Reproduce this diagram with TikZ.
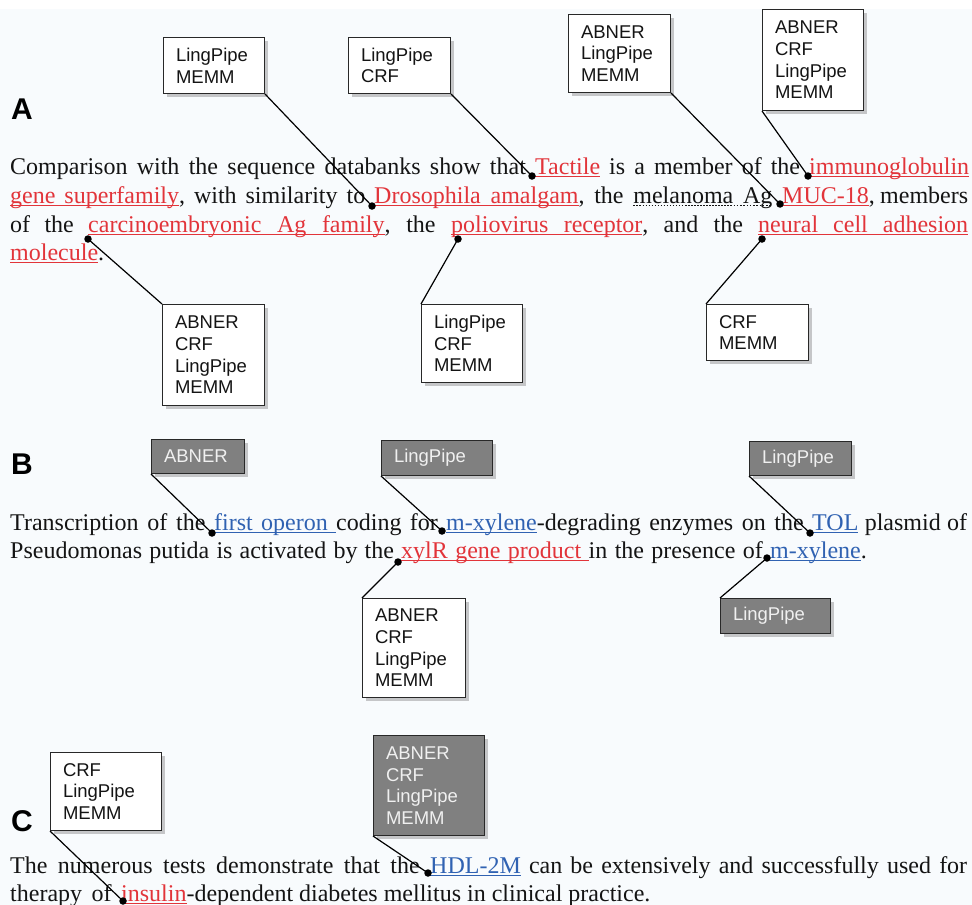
\documentclass[tikz,border=0pt]{standalone}
\usepackage{fontspec}
\setmainfont{Liberation Serif}
\newfontfamily\sansf{Liberation Sans}
\usetikzlibrary{shadows}
\definecolor{bg}{RGB}{248,251,253}
\definecolor{hlred}{RGB}{226,52,58}
\definecolor{hlblue}{RGB}{48,98,178}
\definecolor{gbox}{RGB}{128,128,128}
\definecolor{gtext}{RGB}{240,240,240}
\definecolor{bord}{RGB}{40,40,40}
\definecolor{ink}{RGB}{20,20,20}
% underline helpers
\newcommand\ulw[1]{\setbox0\hbox{#1}\rlap{\vrule width\wd0 height -2pt depth 3.3pt}\box0}
\newcommand\uls{\leaders\hrule height -2pt depth 3.3pt\hskip\fontdimen2\font plus\fontdimen3\font minus\fontdimen4\font\relax}
\newcommand\dashpiece{\hbox to 3pt{\vrule width 1.6pt height -2pt depth 3pt\hss}}
\newcommand\dul[1]{\setbox0\hbox{#1}\rlap{\hbox to\wd0{\xleaders\dashpiece\hfil}}\box0}
\newcommand\dus{\xleaders\dashpiece\hskip\fontdimen2\font plus\fontdimen3\font minus\fontdimen4\font\relax}
\newcommand\bodyfnt{\fontsize{24}{28}\selectfont\frenchspacing}
\newcommand\boxfnt{\sansf\fontsize{18.5}{21.7}\selectfont}
\newcommand\lblfnt{\sansf\bfseries\fontsize{30}{32}\selectfont}
\begin{document}
\begin{tikzpicture}[x=1pt,y=-1pt,
  seg/.style={anchor=base west,inner sep=0pt,font=\bodyfnt,text=ink},
  lbl/.style={anchor=base west,inner sep=0pt,font=\lblfnt,text=black},
  dot/.style={circle,fill=black,inner sep=0pt,minimum size=7.5pt},
  conn/.style={draw=black,line width=1.2pt},
  wbox/.style={draw=bord,line width=1pt,fill=white,anchor=north west,
    inner xsep=12.5pt,inner ysep=0pt,align=left,font=\boxfnt,text=ink,
    drop shadow={shadow xshift=3pt,shadow yshift=-3pt,opacity=0.35,fill=black!60}},
  gbx/.style={wbox,fill=gbox,text=gtext}]
\useasboundingbox (0,0) rectangle (972,905);
\fill[white] (0,0) rectangle (972,905);
\fill[bg] (0,9) rectangle (972,905);

% panel labels
\node[lbl] (lA) at (11,119) {A};
\node[lbl] (lB) at (11,474) {B};
\node[lbl] (lC) at (11,831) {C};

% ---------- Panel A text ----------
\node[seg] (a1s1) at (10,174) {\makebox[525pt][s]{Comparison with the sequence databanks show that\ }};
\node[seg] (a1s2) at (535,174) {\makebox[274pt][s]{\textcolor{hlred}{\ulw{Tactile}} is a member of the\ }};
\node[seg] (a1s3) at (809,174) {\textcolor{hlred}{\ulw{immunoglobulin}}};

\node[seg] (a2s1) at (10,203) {\makebox[364pt][s]{\textcolor{hlred}{\ulw{gene}\uls\ulw{superfamily}}, with similarity to\ }};
\node[seg] (a2s2) at (374,203) {\makebox[408pt][s]{\textcolor{hlred}{\ulw{Drosophila}\uls\ulw{amalgam}}, the \dul{melanoma}\dus\dul{Ag}\ }};
\node[seg] (a2s3) at (782,203) {\makebox[186pt][s]{\textcolor{hlred}{\ulw{MUC-18}}, members}};

\node[seg] (a3s1) at (10,232) {\makebox[78pt][s]{of the\ }};
\node[seg] (a3s2) at (88,232) {\makebox[363pt][s]{\textcolor{hlred}{\ulw{carcinoembryonic}\uls\ulw{Ag}\uls\ulw{family}}, the\ }};
\node[seg] (a3s3) at (451,232) {\makebox[307pt][s]{\textcolor{hlred}{\ulw{poliovirus}\uls\ulw{receptor}}, and the\ }};
\node[seg] (a3s4) at (758,232) {\makebox[210pt][s]{\textcolor{hlred}{\ulw{neural}\uls\ulw{cell}\uls\ulw{adhesion}}}};

\node[seg] (a4s1) at (10,260) {\textcolor{hlred}{\ulw{molecule}}.};

% ---------- Panel B text ----------
\node[seg] (b1s1) at (10,530) {\makebox[204pt][s]{Transcription of the\ }};
\node[seg] (b1s2) at (214,530) {\makebox[232pt][s]{\textcolor{hlblue}{\ulw{first}\uls\ulw{operon}\uls}coding for\ }};
\node[seg] (b1s3) at (446,530) {\makebox[366pt][s]{\textcolor{hlblue}{\ulw{m-xylene}}-degrading enzymes on the\ }};
\node[seg] (b1s4) at (812,530) {\makebox[155pt][s]{\textcolor{hlblue}{\ulw{TOL}} plasmid of}};

\node[seg] (b2s1) at (10,558) {\makebox[391pt][s]{Pseudomonas putida is activated by the\ }};
\node[seg] (b2s2) at (401,558) {\makebox[369pt][s]{\textcolor{hlred}{\ulw{xylR}\uls\ulw{gene}\uls\ulw{product}\uls}in the presence of\ }};
\node[seg] (b2s3) at (770,558) {\textcolor{hlblue}{\ulw{m-xylene}}.};

% ---------- Panel C text ----------
\node[seg] (c1s1) at (10,873) {\makebox[420pt][s]{The numerous tests demonstrate that the\ }};
\node[seg] (c1s2) at (430,873) {\makebox[537pt][s]{\textcolor{hlblue}{\ulw{HDL-2M}} can be extensively and successfully used for}};
\node[seg] (c2s1) at (10,901) {\makebox[111pt][s]{therapy of\ }};
\node[seg] (c2s2) at (121,901) {\textcolor{hlred}{\ulw{insulin}}-dependent diabetes mellitus in clinical practice.};

% ---------- boxes ----------
\node[wbox,text width=76pt,minimum height=56pt]  (ba1) at (163,37)  {LingPipe\\MEMM};
\node[wbox,text width=77pt,minimum height=56pt]  (ba2) at (348,37)  {LingPipe\\CRF};
\node[wbox,text width=77pt,minimum height=78pt]  (ba3) at (568,14)  {ABNER\\LingPipe\\MEMM};
\node[wbox,text width=76pt,minimum height=101pt] (ba4) at (762,9)   {ABNER\\CRF\\LingPipe\\MEMM};
\node[wbox,text width=77pt,minimum height=101pt] (ba5) at (162,304) {ABNER\\CRF\\LingPipe\\MEMM};
\node[wbox,text width=76pt,minimum height=78pt]  (ba6) at (421,304) {LingPipe\\CRF\\MEMM};
\node[wbox,text width=77pt,minimum height=56pt]  (ba7) at (706,304) {CRF\\MEMM};

\node[gbx,text width=68pt,minimum height=34pt]   (bb1) at (151,439) {ABNER};
\node[gbx,text width=86pt,minimum height=35pt]   (bb2) at (381,440) {LingPipe};
\node[gbx,text width=77pt,minimum height=34pt]   (bb3) at (749,441) {LingPipe};
\node[wbox,text width=78pt,minimum height=99pt]  (bb4) at (362,598) {ABNER\\CRF\\LingPipe\\MEMM};
\node[gbx,text width=85pt,minimum height=35pt]   (bb5) at (720,598) {LingPipe};

\node[wbox,text width=86pt,minimum height=78pt]  (bc1) at (50,752)  {CRF\\LingPipe\\MEMM};
\node[gbx,text width=86pt,minimum height=100pt]  (bc2) at (373,735) {ABNER\\CRF\\LingPipe\\MEMM};

% ---------- dots ----------
\node[dot] (dTac) at (532,176) {};
\node[dot] (dImm) at (808,176) {};
\node[dot] (dDro) at (372,206) {};
\node[dot] (dMuc) at (780,204) {};
\node[dot] (dCar) at (88,239) {};
\node[dot] (dPol) at (458,239) {};
\node[dot] (dNeu) at (762,239) {};
\node[dot] (dFir) at (212,533) {};
\node[dot] (dMxa) at (442,531) {};
\node[dot] (dTol) at (810,533) {};
\node[dot] (dXyl) at (398,562) {};
\node[dot] (dMxb) at (767,558) {};
\node[dot] (dHdl) at (428,873) {};
\node[dot] (dIns) at (123,901) {};

% ---------- connectors ----------
\draw[conn] (ba1.south east) -- (dDro.center);
\draw[conn] (ba2.south east) -- (dTac.center);
\draw[conn] (ba3.south east) -- (dMuc.center);
\draw[conn] (ba4.south west) -- (dImm.center);
\draw[conn] (ba5.north west) -- (dCar.center);
\draw[conn] (ba6.north west) -- (dPol.center);
\draw[conn] (ba7.north west) -- (dNeu.center);
\draw[conn] (bb1.south west) -- (dFir.center);
\draw[conn] (bb2.south west) -- (dMxa.center);
\draw[conn] (bb3.south west) -- (dTol.center);
\draw[conn] (bb4.north west) -- (dXyl.center);
\draw[conn] (bb5.north west) -- (dMxb.center);
\draw[conn] (bc1.south west) -- (dIns.center);
\draw[conn] (bc2.south west) -- (dHdl.center);
\end{tikzpicture}
\end{document}
